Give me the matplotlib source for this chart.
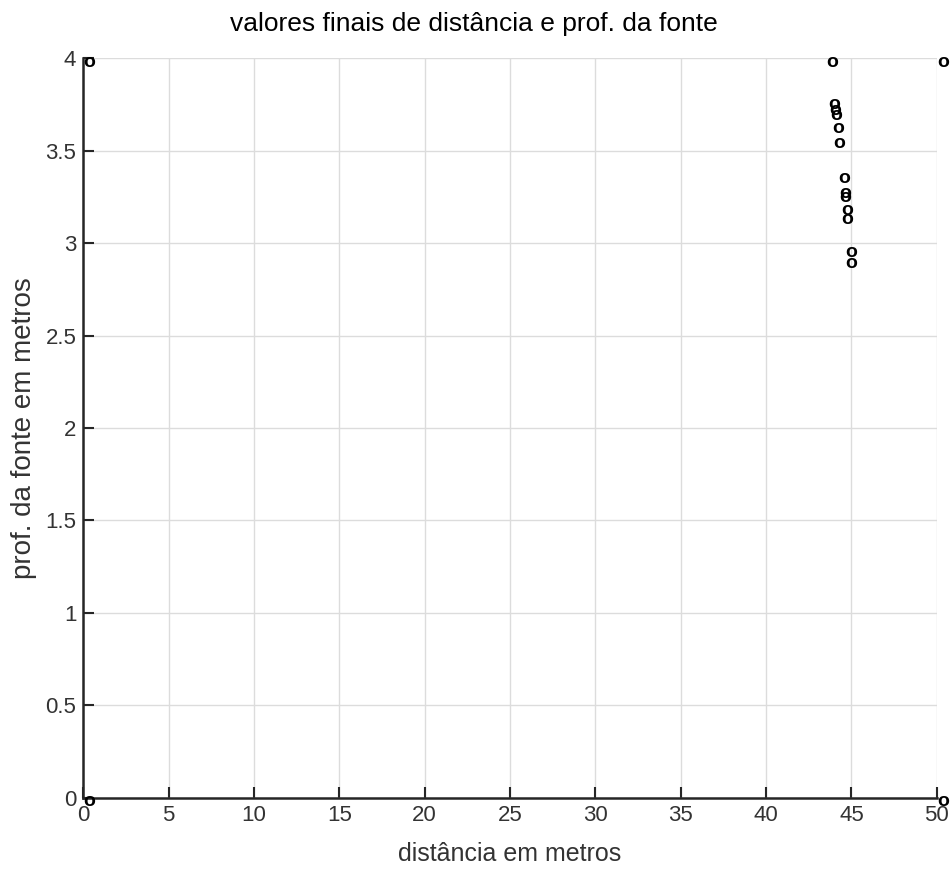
import matplotlib.pyplot as plt
from matplotlib.transforms import ScaledTranslation

# distance (m) and source depth (m)
dist = [0, 50, 0, 50,
        43.5, 43.63, 43.68, 43.74, 43.86, 43.94,
        44.23, 44.27, 44.27, 44.43, 44.43, 44.62, 44.62]
prof = [4, 4, 0, 0,
        4.0, 3.77, 3.74, 3.71, 3.64, 3.56,
        3.37, 3.29, 3.27, 3.20, 3.15, 2.97, 2.91]

x_ticks = [0, 5, 10, 15, 20, 25, 30, 35, 40, 45, 50]
y_ticks = [0, 0.5, 1, 1.5, 2, 2.5, 3, 3.5, 4]
y_labels = ["0", "0.5", "1", "1.5", "2", "2.5", "3", "3.5", "4"]

plt.rcParams['font.family'] = ['Liberation Sans', 'DejaVu Sans']

fig = plt.figure(figsize=(9.52, 8.88), dpi=100)
ax = fig.add_axes([0.0875, 0.1017, 0.8965, 0.8326])

# the points are text "o" labels, sitting a little below the data point
shift = ax.transData + ScaledTranslation(0, -4 / 100, fig.dpi_scale_trans)
for x, y in zip(dist, prof):
    ax.text(x, y, "o", ha='left', va='center', fontsize=14,
            fontweight='bold', color='black', transform=shift)

ax.set_xlim(0, 50)
ax.set_ylim(0, 4)
ax.set_xticks(x_ticks)
ax.set_yticks(y_ticks)
ax.set_yticklabels(y_labels)
ax.grid(True, color='#dcdcdc', linewidth=1)
ax.set_axisbelow(True)

for s in ['top', 'right']:
    ax.spines[s].set_visible(False)
for s in ['left', 'bottom']:
    ax.spines[s].set_linewidth(1.8)
    ax.spines[s].set_color('#262626')

ax.tick_params(direction='in', length=8, width=1.5, labelsize=16,
               labelcolor='#333333', color='#262626', pad=5)

ax.set_title("valores finais de distância e prof. da fonte",
             fontsize=19, pad=20, x=0.458)
ax.set_xlabel("distância em metros", fontsize=18, color='#333333', labelpad=12)
ax.set_ylabel("prof. da fonte em metros", fontsize=20, color='#333333',
              labelpad=6)

fig.savefig("out.png", dpi=100)
